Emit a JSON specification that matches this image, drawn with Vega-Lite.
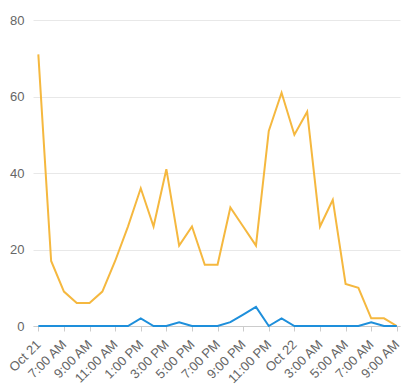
{
  "$schema": "https://vega.github.io/schema/vega-lite/v6.json",
  "width": 367,
  "height": 306,
  "autosize": "none",
  "padding": {"left": 33, "top": 20, "right": 6, "bottom": 61},
  "background": "white",
  "config": {
    "view": {"stroke": null},
    "font": "Liberation Sans",
    "axis": {"labelFont": "Liberation Sans", "labelFontSize": 13, "labelColor": "#666666"}
  },
  "data": {
    "values": [
      {"time": "2024-10-21T05:00", "series": "A", "value": 71},
      {"time": "2024-10-21T06:00", "series": "A", "value": 17},
      {"time": "2024-10-21T07:00", "series": "A", "value": 9},
      {"time": "2024-10-21T08:00", "series": "A", "value": 6},
      {"time": "2024-10-21T09:00", "series": "A", "value": 6},
      {"time": "2024-10-21T10:00", "series": "A", "value": 9},
      {"time": "2024-10-21T11:00", "series": "A", "value": 17},
      {"time": "2024-10-21T12:00", "series": "A", "value": 26},
      {"time": "2024-10-21T13:00", "series": "A", "value": 36},
      {"time": "2024-10-21T14:00", "series": "A", "value": 26},
      {"time": "2024-10-21T15:00", "series": "A", "value": 41},
      {"time": "2024-10-21T16:00", "series": "A", "value": 21},
      {"time": "2024-10-21T17:00", "series": "A", "value": 26},
      {"time": "2024-10-21T18:00", "series": "A", "value": 16},
      {"time": "2024-10-21T19:00", "series": "A", "value": 16},
      {"time": "2024-10-21T20:00", "series": "A", "value": 31},
      {"time": "2024-10-21T21:00", "series": "A", "value": 26},
      {"time": "2024-10-21T22:00", "series": "A", "value": 21},
      {"time": "2024-10-21T23:00", "series": "A", "value": 51},
      {"time": "2024-10-22T00:00", "series": "A", "value": 61},
      {"time": "2024-10-22T01:00", "series": "A", "value": 50},
      {"time": "2024-10-22T02:00", "series": "A", "value": 56},
      {"time": "2024-10-22T03:00", "series": "A", "value": 26},
      {"time": "2024-10-22T04:00", "series": "A", "value": 33},
      {"time": "2024-10-22T05:00", "series": "A", "value": 11},
      {"time": "2024-10-22T06:00", "series": "A", "value": 10},
      {"time": "2024-10-22T07:00", "series": "A", "value": 2},
      {"time": "2024-10-22T08:00", "series": "A", "value": 2},
      {"time": "2024-10-22T09:00", "series": "A", "value": 0},
      {"time": "2024-10-21T05:00", "series": "B", "value": 0},
      {"time": "2024-10-21T06:00", "series": "B", "value": 0},
      {"time": "2024-10-21T07:00", "series": "B", "value": 0},
      {"time": "2024-10-21T08:00", "series": "B", "value": 0},
      {"time": "2024-10-21T09:00", "series": "B", "value": 0},
      {"time": "2024-10-21T10:00", "series": "B", "value": 0},
      {"time": "2024-10-21T11:00", "series": "B", "value": 0},
      {"time": "2024-10-21T12:00", "series": "B", "value": 0},
      {"time": "2024-10-21T13:00", "series": "B", "value": 2},
      {"time": "2024-10-21T14:00", "series": "B", "value": 0},
      {"time": "2024-10-21T15:00", "series": "B", "value": 0},
      {"time": "2024-10-21T16:00", "series": "B", "value": 1},
      {"time": "2024-10-21T17:00", "series": "B", "value": 0},
      {"time": "2024-10-21T18:00", "series": "B", "value": 0},
      {"time": "2024-10-21T19:00", "series": "B", "value": 0},
      {"time": "2024-10-21T20:00", "series": "B", "value": 1},
      {"time": "2024-10-21T21:00", "series": "B", "value": 3},
      {"time": "2024-10-21T22:00", "series": "B", "value": 5},
      {"time": "2024-10-21T23:00", "series": "B", "value": 0},
      {"time": "2024-10-22T00:00", "series": "B", "value": 2},
      {"time": "2024-10-22T01:00", "series": "B", "value": 0},
      {"time": "2024-10-22T02:00", "series": "B", "value": 0},
      {"time": "2024-10-22T03:00", "series": "B", "value": 0},
      {"time": "2024-10-22T04:00", "series": "B", "value": 0},
      {"time": "2024-10-22T05:00", "series": "B", "value": 0},
      {"time": "2024-10-22T06:00", "series": "B", "value": 0},
      {"time": "2024-10-22T07:00", "series": "B", "value": 1},
      {"time": "2024-10-22T08:00", "series": "B", "value": 0},
      {"time": "2024-10-22T09:00", "series": "B", "value": 0}
    ]
  },
  "mark": {"type": "line", "strokeWidth": 2, "interpolate": "linear"},
  "encoding": {
    "x": {
      "field": "time",
      "type": "temporal",
      "title": null,
      "scale": {"domain": [{"year": 2024, "month": 10, "date": 21, "hours": 4, "minutes": 35}, {"year": 2024, "month": 10, "date": 22, "hours": 9, "minutes": 15}]},
      "axis": {
        "values": [
          {"year": 2024, "month": 10, "date": 21, "hours": 5},
          {"year": 2024, "month": 10, "date": 21, "hours": 7},
          {"year": 2024, "month": 10, "date": 21, "hours": 9},
          {"year": 2024, "month": 10, "date": 21, "hours": 11},
          {"year": 2024, "month": 10, "date": 21, "hours": 13},
          {"year": 2024, "month": 10, "date": 21, "hours": 15},
          {"year": 2024, "month": 10, "date": 21, "hours": 17},
          {"year": 2024, "month": 10, "date": 21, "hours": 19},
          {"year": 2024, "month": 10, "date": 21, "hours": 21},
          {"year": 2024, "month": 10, "date": 21, "hours": 23},
          {"year": 2024, "month": 10, "date": 22, "hours": 1},
          {"year": 2024, "month": 10, "date": 22, "hours": 3},
          {"year": 2024, "month": 10, "date": 22, "hours": 5},
          {"year": 2024, "month": 10, "date": 22, "hours": 7},
          {"year": 2024, "month": 10, "date": 22, "hours": 9}
        ],
        "format": "%-I:%M %p",
        "labelExpr": "hours(datum.value) == 5 && date(datum.value) == 21 ? 'Oct 21' : hours(datum.value) == 1 ? 'Oct 22' : datum.label",
        "labelAngle": -45,
        "labelAlign": "right",
        "labelBaseline": "middle",
        "labelPadding": 11,
        "labelOverlap": false,
        "labelFlush": false,
        "grid": false,
        "domainColor": "#cccccc",
        "tickColor": "#cccccc",
        "tickSize": 5
      }
    },
    "y": {
      "field": "value",
      "type": "quantitative",
      "title": null,
      "scale": {"domain": [0, 80], "nice": false},
      "axis": {
        "values": [0, 20, 40, 60, 80],
        "domain": false,
        "ticks": false,
        "labelPadding": 9,
        "gridColor": "#e8e8e8"
      }
    },
    "color": {
      "field": "series",
      "type": "nominal",
      "scale": {"domain": ["A", "B"], "range": ["#F5B83F", "#1E8FDB"]},
      "legend": null
    }
  }
}
